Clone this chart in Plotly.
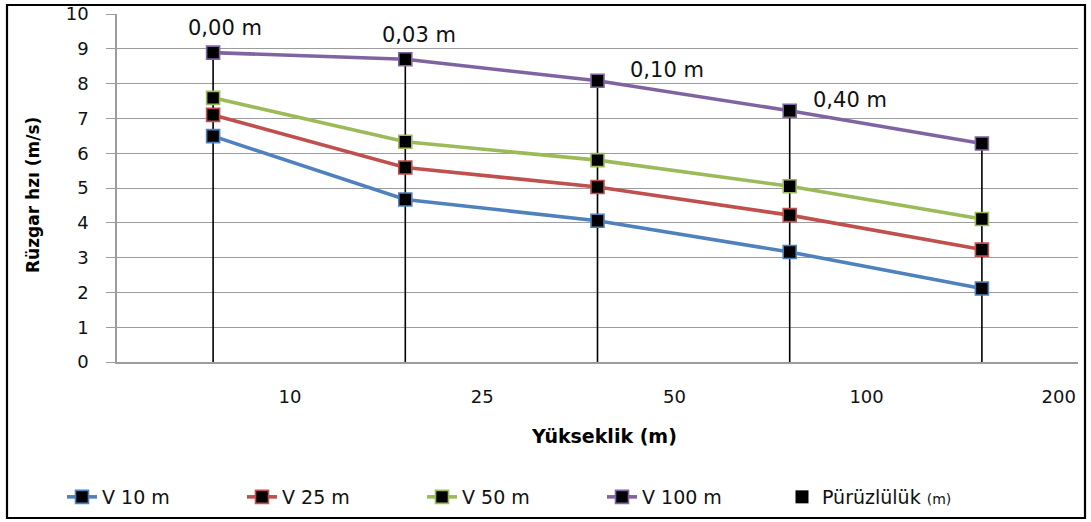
import plotly.graph_objects as go

# Heights (m) on the category axis and wind speeds (m/s) per roughness class
heights = ["10", "25", "50", "100", "200"]
v10 = [6.49, 4.67, 4.06, 3.16, 2.11]
v25 = [7.10, 5.59, 5.03, 4.22, 3.23]
v50 = [7.59, 6.33, 5.80, 5.05, 4.11]
v100 = [8.89, 8.70, 8.08, 7.22, 6.28]
roughness = [0.00, 0.03, 0.10, 0.40, None]

series_names = ["V 10 m", "V 25 m", "V 50 m", "V 100 m"]
series_values = [v10, v25, v50, v100]
series_colors = ["#4F81BD", "#C0504D", "#9BBB59", "#8064A2"]

pos = list(range(1, len(heights) + 1))

FONT = "DejaVu Sans"
GRID = "#9c9c9c"

# plot area in pixels
W, H = 1091, 522
L, R, T, B = 117, 1078, 14, 362


def px_x(p):
    return (p - L) / (R - L)


def px_y(p):
    return (B - p) / (B - T)


fig = go.Figure()

# Roughness markers with drop lines down to the axis
fig.add_trace(go.Scatter(
    x=pos, y=v100, mode="markers",
    name="Pürüzlülük <span style='font-size:14px'>(m)</span>",
    marker=dict(symbol="square", size=13, color="black"),
    error_y=dict(type="data", symmetric=False, array=[0] * len(pos),
                 arrayminus=v100, width=0, color="black", thickness=1.6),
    legendrank=5,
    hoverinfo="skip",
))

for rank, (name, vals, col) in enumerate(zip(series_names, series_values, series_colors)):
    fig.add_trace(go.Scatter(
        x=pos, y=vals, mode="lines+markers", name=name,
        line=dict(color=col, width=3.6),
        marker=dict(symbol="square", size=13, color="black",
                    line=dict(color=col, width=1.6)),
        legendrank=rank + 1,
    ))

# roughness labels next to the top series
label_shift = [(12, -25), (14, -24), (69, -11), (60, -11)]
for p, yv, r, (dx, dy) in zip(pos, v100, roughness, label_shift):
    if r is None:
        continue
    fig.add_annotation(
        x=p, y=yv, text=f"{r:.2f}".replace(".", ",") + " m",
        showarrow=False, xshift=dx, yshift=-dy,
        font=dict(family=FONT, size=21, color="#111111"),
    )

fig.add_annotation(
    x=px_x(33), y=px_y(195), xref="paper", yref="paper",
    xanchor="center", yanchor="middle",
    text="<b>Rüzgar hzı (m/s)</b>", textangle=-90, showarrow=False,
    font=dict(family=FONT, size=17, color="black"),
)
fig.add_annotation(
    x=px_x(604), y=px_y(436), xref="paper", yref="paper",
    xanchor="center", yanchor="middle",
    text="<b>Yükseklik (m)</b>", showarrow=False,
    font=dict(family=FONT, size=19, color="black"),
)

# outer frame
fig.add_shape(
    type="rect", xref="paper", yref="paper",
    x0=px_x(7), x1=px_x(1085), y0=px_y(518), y1=px_y(5),
    line=dict(color="black", width=2.2),
)

fig.update_layout(
    width=W, height=H, autosize=False,
    margin=dict(l=L, r=W - R, t=T, b=H - B, autoexpand=False),
    paper_bgcolor="white", plot_bgcolor="white",
    font=dict(family=FONT, size=17, color="#111111"),
    showlegend=True,
    legend=dict(
        orientation="h", x=px_x(62), xanchor="left",
        y=px_y(497), yanchor="middle",
        entrywidth=135, entrywidthmode="pixels",
        font=dict(family=FONT, size=19, color="#111111"),
        bgcolor="rgba(0,0,0,0)",
    ),
    xaxis=dict(
        range=[0.5, 5.5], tickmode="array",
        tickvals=[p + 0.4 for p in pos], ticktext=heights,
        showgrid=False, zeroline=False, automargin=False,
        showline=True, linecolor=GRID, linewidth=1.5,
        ticks="", ticklabelstandoff=18,
        tickfont=dict(family=FONT, size=18, color="#111111"),
    ),
    yaxis=dict(
        range=[0, 10], dtick=1, tick0=0, automargin=False,
        showgrid=True, gridcolor=GRID, gridwidth=1.4,
        zeroline=False,
        showline=True, linecolor=GRID, linewidth=1.5,
        ticks="outside", ticklen=9, tickcolor=GRID, tickwidth=1.4,
        ticklabelstandoff=14,
        tickfont=dict(family=FONT, size=18, color="#111111"),
    ),
)

fig.write_html("out.html")
